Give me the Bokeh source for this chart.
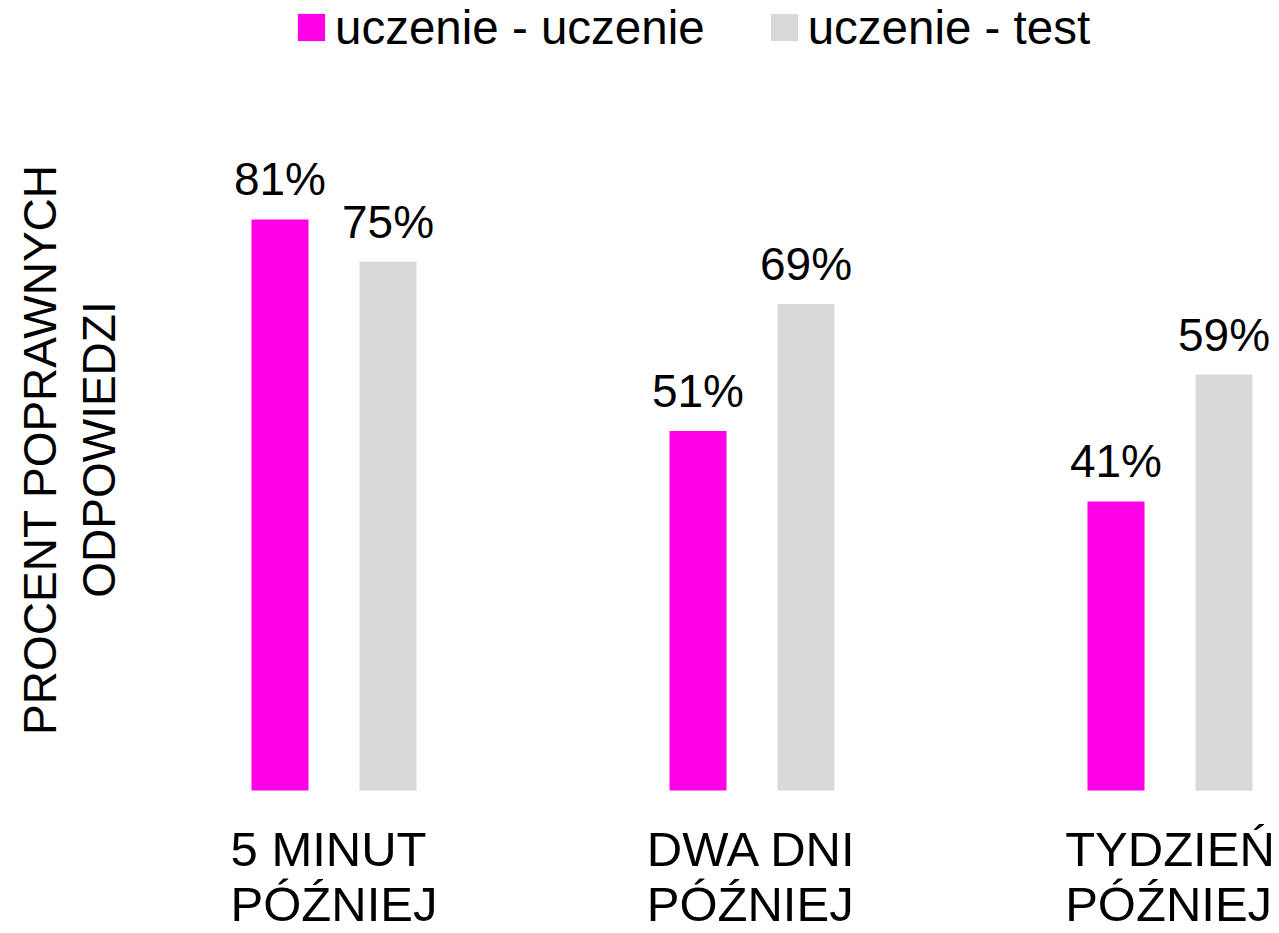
import math
from bokeh.plotting import figure
from bokeh.models import (ColumnDataSource, Range1d, Legend, LegendItem,
                          LabelSet, Label)
from bokeh.transform import dodge
from bokeh.core.properties import value
from bokeh.embed import file_html
from bokeh.resources import INLINE

# ---- data ----
categories = ["5 MINUT\nPÓŹNIEJ", "DWA DNI\nPÓŹNIEJ", "TYDZIEŃ\nPÓŹNIEJ"]
series_names = ["uczenie - uczenie", "uczenie - test"]
uczenie_uczenie = [81, 51, 41]
uczenie_test = [75, 69, 59]
y_label = "PROCENT POPRAWNYCH\nODPOWIEDZI"

# ---- styling ----
FONT = "Liberation Sans"
MAGENTA = "#FF00E6"
GRAY = "#D9D9D9"
OFFSET = 0.1292
BAR_W = 0.1364
W, H = 1275, 933
PX_X = 418.0          # px per category step
PX_Y = 7.05           # px per percent
X0, Y0 = 333.5, 790   # screen position of first group centre / baseline

positions = list(range(len(categories)))
src = ColumnDataSource(dict(
    x=positions,
    base=[0] * len(positions),
    cat=categories,
    a=uczenie_uczenie,
    b=uczenie_test,
    la=[f"{v}%" for v in uczenie_uczenie],
    lb=[f"{v}%" for v in uczenie_test],
))

p = figure(width=W, height=H,
           x_range=Range1d(-X0 / PX_X, (W - X0) / PX_X),
           y_range=Range1d(-(H - Y0) / PX_Y, Y0 / PX_Y),
           output_backend="svg", toolbar_location=None,
           min_border_left=0, min_border_right=0,
           min_border_top=0, min_border_bottom=0)
p.outline_line_color = None
p.xgrid.visible = False
p.ygrid.visible = False
p.xaxis.visible = False
p.yaxis.visible = False
p.background_fill_color = "white"

r1 = p.vbar(x=dodge("x", -OFFSET), top="a", width=BAR_W, source=src,
            fill_color=MAGENTA, line_color=None)
r2 = p.vbar(x=dodge("x", OFFSET), top="b", width=BAR_W, source=src,
            fill_color=GRAY, line_color=None)

for fld, txt, off in (("a", "la", -OFFSET), ("b", "lb", OFFSET)):
    p.add_layout(LabelSet(x=dodge("x", off), y=fld, text=txt, source=src,
                          text_align="center", text_baseline="alphabetic",
                          y_offset=24, text_font=value(FONT),
                          text_font_size="46px", text_color="black"))

# category labels under the groups
p.add_layout(LabelSet(x="x", y="base", text="cat", source=src,
                      text_align="center", text_baseline="top",
                      y_offset=-31.7, text_font=value(FONT),
                      text_font_size="49px", text_line_height=1.023,
                      text_color="black"))

# y axis title (rotated)
p.add_layout(Label(x=69, y=H - 449, x_units="screen", y_units="screen",
                   text=y_label, angle=math.pi / 2,
                   text_align="center", text_baseline="middle",
                   text_font=FONT, text_font_size="46px",
                   text_line_height=1.13, text_color="black"))

legend = Legend(items=[LegendItem(label=series_names[0], renderers=[r1]),
                       LegendItem(label=series_names[1], renderers=[r2])],
                orientation="horizontal", location=(294, H - 54.5),
                padding=0, margin=0, spacing=62, label_standoff=7,
                glyph_width=34, glyph_height=34,
                label_text_font=FONT, label_text_font_size="47.5px",
                label_text_color="black",
                border_line_color=None, background_fill_alpha=0)
p.add_layout(legend, "center")

open("out.html", "w").write(file_html(p, INLINE))
